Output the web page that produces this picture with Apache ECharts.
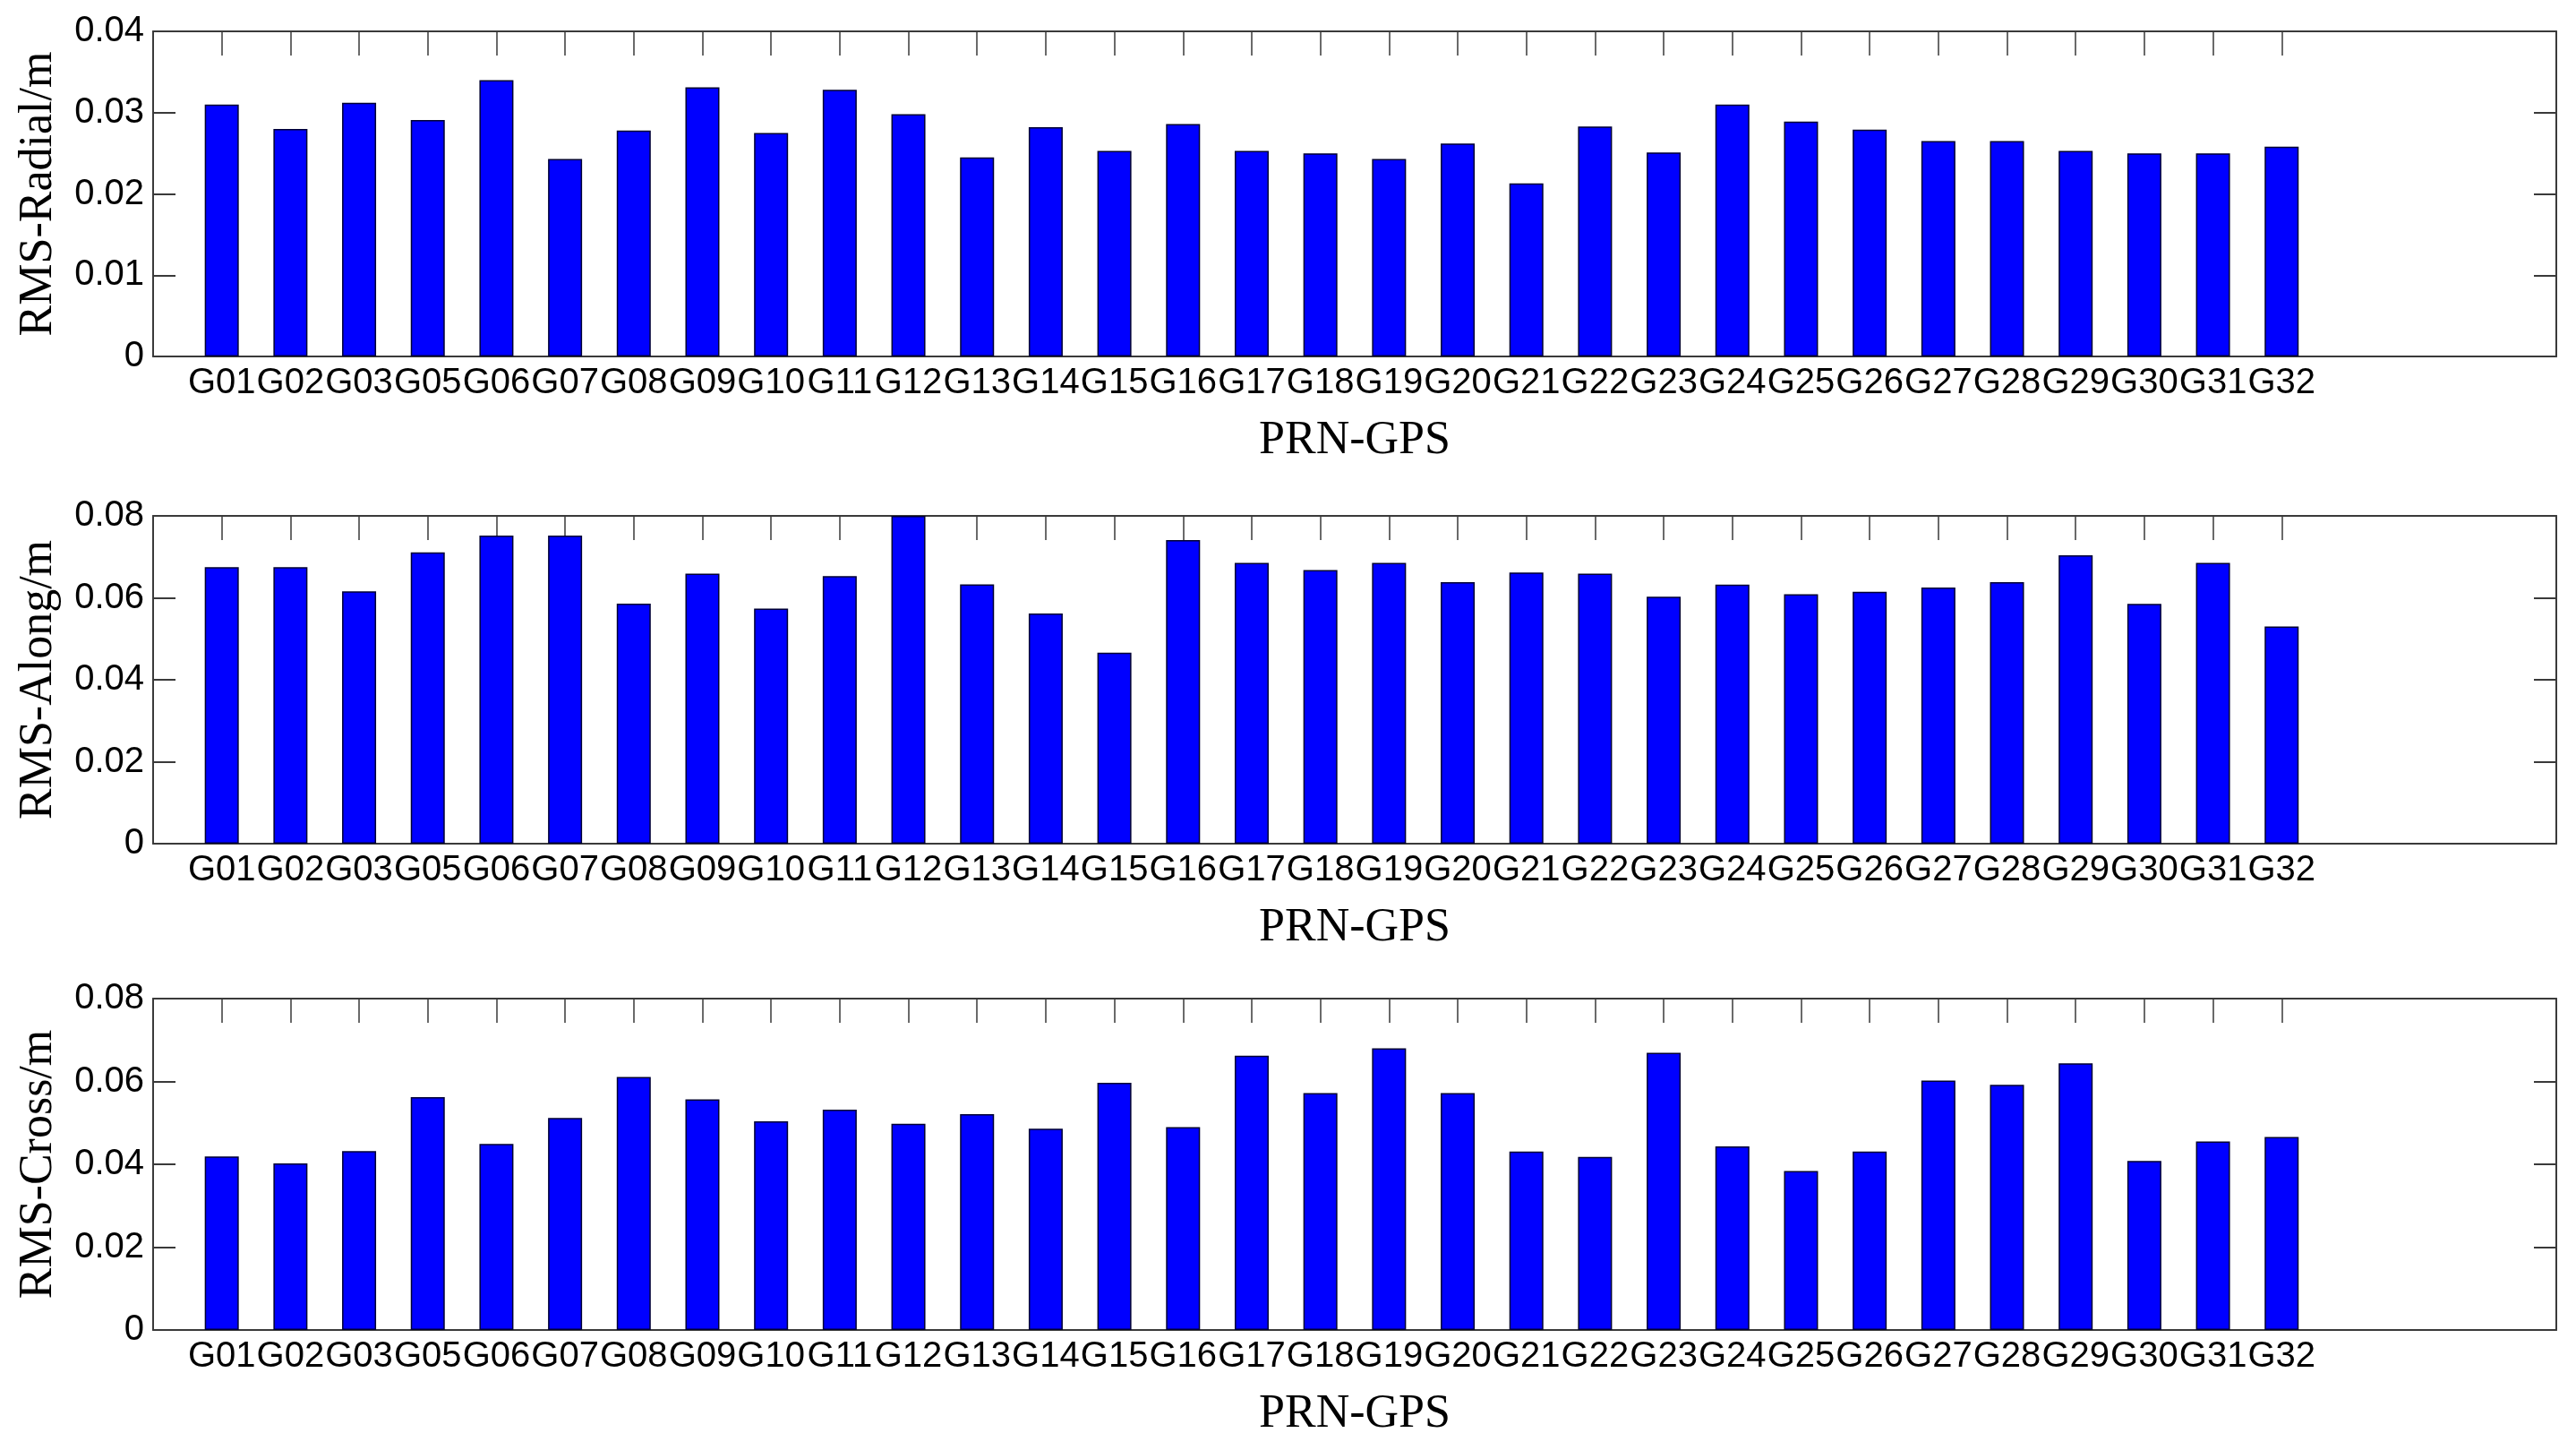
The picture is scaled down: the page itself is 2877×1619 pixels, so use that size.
<!DOCTYPE html>
<html>
<head>
<meta charset="utf-8">
<script src="https://cdn.jsdelivr.net/npm/echarts@6/dist/echarts.min.js"></script>
<style>
html,body{margin:0;padding:0;background:#fff;}
#chart{width:2877px;height:1619px;}
</style>
</head>
<body>
<div id="chart"></div>
<script>
const categories = ['G01','G02','G03','G05','G06','G07','G08','G09','G10','G11','G12','G13','G14','G15','G16','G17',
  'G18','G19','G20','G21','G22','G23','G24','G25','G26','G27','G28','G29','G30','G31','G32'];
const radial = [0.0310,0.0280,0.0312,0.0291,0.0340,0.0243,0.0278,0.0331,0.0275,0.0328,0.0298,0.0245,0.0282,0.0253,0.0286,0.0253,
  0.0250,0.0243,0.0262,0.0213,0.0283,0.0251,0.0310,0.0289,0.0279,0.0265,0.0265,0.0253,0.0250,0.0250,0.0258];
const along = [0.0675,0.0675,0.0616,0.0711,0.0752,0.0752,0.0586,0.0659,0.0574,0.0653,0.0800,0.0633,0.0562,0.0466,0.0741,0.0685,
  0.0668,0.0685,0.0638,0.0662,0.0659,0.0603,0.0632,0.0609,0.0615,0.0625,0.0638,0.0704,0.0585,0.0685,0.0530];
const cross = [0.0419,0.0402,0.0432,0.0562,0.0449,0.0512,0.0611,0.0557,0.0504,0.0532,0.0498,0.0521,0.0486,0.0597,0.0490,0.0662,
  0.0572,0.0680,0.0572,0.0431,0.0418,0.0669,0.0443,0.0384,0.0431,0.0602,0.0592,0.0644,0.0408,0.0455,0.0466];
const radialTicks = [0, 0.01, 0.02, 0.03, 0.04];
const alongTicks = [0, 0.02, 0.04, 0.06, 0.08];
const crossTicks = [0, 0.02, 0.04, 0.06, 0.08];
const yNames = ['RMS-Radial/m', 'RMS-Along/m', 'RMS-Cross/m'];
const xName = 'PRN-GPS';

const panels = [
  {values: radial, ticks: radialTicks, name: yNames[0], top: 35, height: 363},
  {values: along, ticks: alongTicks, name: yNames[1], top: 576, height: 366},
  {values: cross, ticks: crossTicks, name: yNames[2], top: 1115, height: 370}
];

const positions = categories.map((c, i) => i + 1);
const lineCol = '#3a3a3a';
const sansFont = 'Liberation Sans';
const serifFont = 'Liberation Serif';

const grids = [], xAxes = [], yAxes = [], series = [];
panels.forEach((p, k) => {
  grids.push({left: 171, right: 22, top: p.top, height: p.height, containLabel: false});
  const baseX = {
    type: 'value', gridIndex: k, min: 0, max: 35,
    splitLine: {show: false},
    axisLine: {show: true, onZero: false, lineStyle: {color: lineCol, width: 2}},
    axisTick: {show: true, inside: true, length: 27, customValues: positions, lineStyle: {color: lineCol, width: 1.5}}
  };
  xAxes.push(Object.assign({}, baseX, {
    position: 'bottom',
    axisLabel: {show: true, customValues: positions, margin: 10, color: '#000', fontFamily: sansFont, fontSize: 40,
      formatter: v => categories[Math.round(v) - 1] || ''},
    name: xName, nameLocation: 'middle', nameGap: 68,
    nameTextStyle: {fontFamily: serifFont, fontSize: 52, color: '#000'}
  }));
  xAxes.push(Object.assign({}, baseX, {position: 'top', axisLabel: {show: false}}));
  const t = p.ticks;
  const baseY = {
    type: 'value', gridIndex: k, min: t[0], max: t[t.length - 1], interval: t[1] - t[0],
    splitLine: {show: false},
    axisLine: {show: true, onZero: false, lineStyle: {color: lineCol, width: 2}},
    axisTick: {show: true, inside: true, length: 25, lineStyle: {color: lineCol, width: 2}}
  };
  yAxes.push(Object.assign({}, baseY, {
    position: 'left',
    axisLabel: {show: true, margin: 10, color: '#000', fontFamily: sansFont, fontSize: 40,
      formatter: v => (Math.abs(v) < 1e-12 ? '0' : String(+v.toFixed(2)))},
    name: p.name, nameLocation: 'middle', nameGap: 102, nameRotate: 90,
    nameTextStyle: {fontFamily: serifFont, fontSize: 52, color: '#000'}
  }));
  yAxes.push(Object.assign({}, baseY, {position: 'right', axisLabel: {show: false}}));
  series.push({
    type: 'bar', xAxisIndex: 2 * k, yAxisIndex: 2 * k, barWidth: 38,
    data: p.values.map((v, i) => [positions[i], v]),
    itemStyle: {color: '#0000ff', borderColor: '#000033', borderWidth: 1.5},
    emphasis: {disabled: true},
    animation: false
  });
});

const chart = echarts.init(document.getElementById('chart'));
chart.setOption({
  backgroundColor: '#fff',
  animation: false,
  grid: grids,
  xAxis: xAxes,
  yAxis: yAxes,
  series: series
});
</script>
</body>
</html>
